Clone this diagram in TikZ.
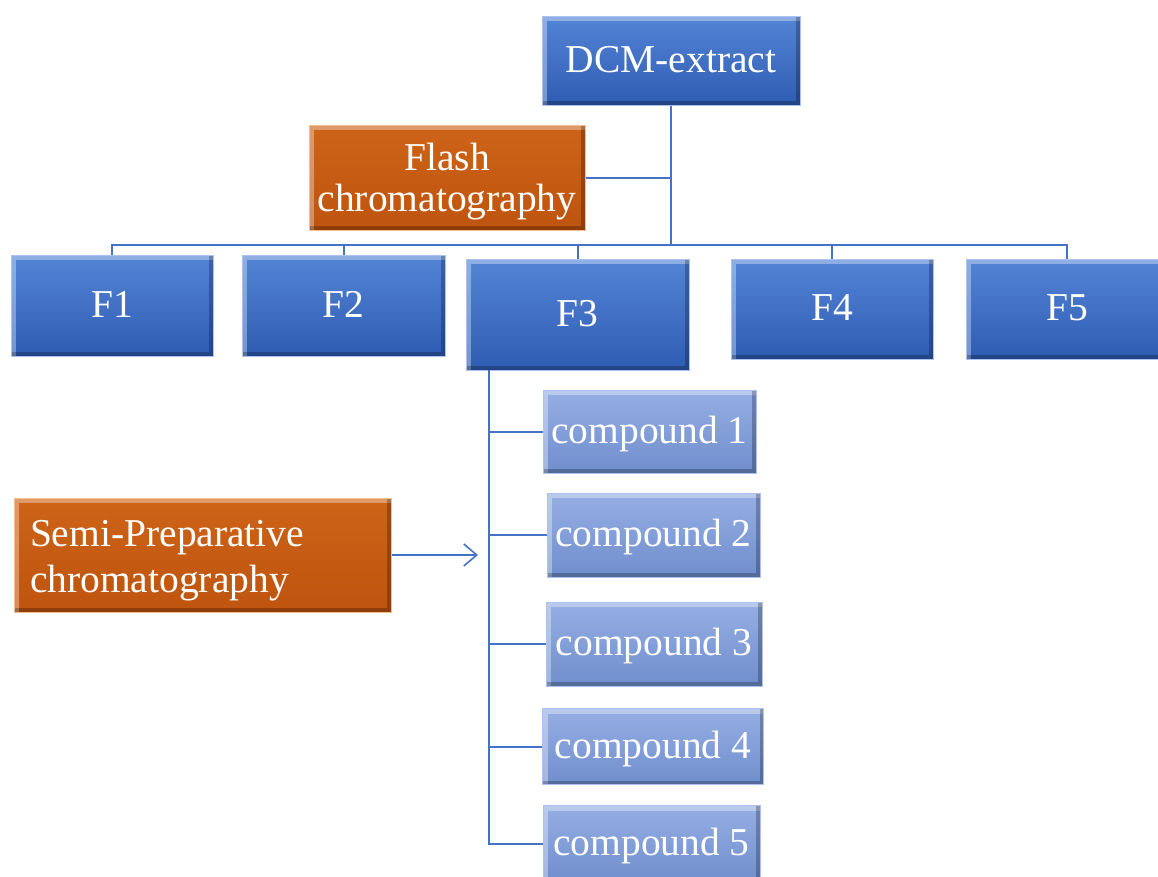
\documentclass[tikz,border=0pt]{standalone}
\usepackage{fontspec}
\setmainfont{Liberation Serif}
\usetikzlibrary{arrows.meta,shadings}
\definecolor{btop}{RGB}{84,132,214}
\definecolor{bbot}{RGB}{46,92,178}
\definecolor{bedge}{RGB}{170,195,240}
\definecolor{ctop}{RGB}{150,175,228}
\definecolor{cbot}{RGB}{112,142,205}
\definecolor{otop}{RGB}{206,100,24}
\definecolor{obot}{RGB}{190,84,14}
\definecolor{oedge}{RGB}{245,190,140}
\definecolor{lineblue}{RGB}{68,114,196}
\tikzset{
  bevel/.style={path picture={
      \draw[white,opacity=0.35,line width=10pt]
        (path picture bounding box.south west) -- (path picture bounding box.north west)
        -- (path picture bounding box.north east);
      \draw[black,opacity=0.25,line width=8pt]
        (path picture bounding box.north east) -- (path picture bounding box.south east)
        -- (path picture bounding box.south west);}},
  basebox/.style={rectangle, inner sep=0pt, text=white, bevel,
      font=\fontsize{39.5pt}{41pt}\selectfont, line width=1pt},
  oneline/.style={text height=32pt, text depth=9pt},
  bluebox/.style={basebox, oneline, top color=btop, bottom color=bbot, draw=bedge},
  compbox/.style={basebox, oneline, top color=ctop, bottom color=cbot, draw=bedge},
  orangebox/.style={basebox, top color=otop, bottom color=obot, draw=oedge},
  conn/.style={draw=lineblue, line width=2pt},
}
\begin{document}
\begin{tikzpicture}[x=1pt,y=-1pt]
\useasboundingbox (0,0) rectangle (1158,876);
\fill[white] (0,0) rectangle (1158,876);
\clip (0,0) rectangle (1158,876);

% nodes
\node[bluebox, minimum width=258pt, minimum height=89pt] (dcm) at (671,60.5) {DCM-extract};
\node[orangebox, minimum width=276pt, minimum height=105pt,
      font=\fontsize{39.5pt}{41pt}\selectfont] (flash) at (447,177.5)
      {\raisebox{-5pt}[\height][\depth]{\begin{tabular}{@{}c@{}}Flash\\chromatography\end{tabular}}};
\node[bluebox, minimum width=202pt, minimum height=101pt] (f1) at (112,305.5) {F1};
\node[bluebox, minimum width=203pt, minimum height=101pt] (f2) at (343.5,305.5) {F2};
\node[bluebox, minimum width=223pt, minimum height=111pt] (f3) at (577.5,314.5) {F3};
\node[bluebox, minimum width=202pt, minimum height=100pt] (f4) at (832,309) {F4};
\node[bluebox, minimum width=202pt, minimum height=100pt] (f5) at (1067,309) {F5};

\node[compbox, minimum width=213pt, minimum height=83pt] (c1) at (649.5,431.5) {compound 1};
\node[compbox, minimum width=213pt, minimum height=84pt] (c2) at (653.5,535) {compound 2};
\node[compbox, minimum width=216pt, minimum height=84pt] (c3) at (654,644) {compound 3};
\node[compbox, minimum width=221pt, minimum height=76pt] (c4) at (653,746.5) {compound 4};
\node[compbox, minimum width=217pt, minimum height=76pt] (c5) at (651.5,843.5) {compound 5};

\node[orangebox, minimum width=377pt, minimum height=114pt, text width=345pt,
      inner xsep=16pt, align=left, font=\fontsize{39.5pt}{46pt}\selectfont]
      (semi) at (202.5,555)
      {\raisebox{-5pt}[\height][\depth]{\begin{tabular}{@{}l@{}}Semi-Preparative\\chromatography\end{tabular}}};

% connector coordinates
\coordinate (hub) at (671,245);
\coordinate (spine) at (489,370);
\coordinate (arrtip) at (478,556);

% connectors
\draw[conn] (dcm.south) -- (hub);
\draw[conn] (flash.east) -- (flash.east -| hub);
\draw[conn] (f1.north) |- (hub) -| (f5.north);
\draw[conn] (f2.north) -- (f2.north |- hub);
\draw[conn] (f3.north) -- (f3.north |- hub);
\draw[conn] (f4.north) -- (f4.north |- hub);

\draw[conn] (spine) |- (c5.west);
\draw[conn] (c1.west) -- (c1.west -| spine);
\draw[conn] (c2.west) -- (c2.west -| spine);
\draw[conn] (c3.west) -- (c3.west -| spine);
\draw[conn] (c4.west) -- (c4.west -| spine);

\draw[conn, line width=1.6pt, -{Straight Barb[length=13pt,width=22pt]}] (semi.east) -- (semi.east -| arrtip);
\end{tikzpicture}
\end{document}
